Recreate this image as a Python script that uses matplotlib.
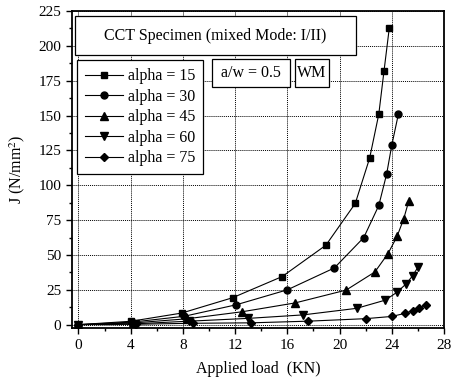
import matplotlib.pyplot as plt
from matplotlib.patches import Rectangle
from matplotlib.ticker import MultipleLocator

plt.rcParams['font.family'] = ['Liberation Serif', 'DejaVu Serif']
plt.rcParams['mathtext.fontset'] = 'stix'

# load (KN) and J integral (N/mm^2) for each crack angle
load_15 = [0, 4.0, 7.9, 11.8, 15.6, 18.95, 21.2, 22.3, 23.0, 23.4, 23.8]
j_15 = [0, 2.4, 8.3, 19.3, 34.5, 57, 87, 119.5, 151, 182, 212.5]
load_30 = [0, 4.1, 8.1, 12.1, 16.0, 19.6, 21.85, 23.0, 23.6, 24.0, 24.5]
j_30 = [0, 1.8, 6.0, 14.3, 25, 40.7, 62.5, 85.5, 108, 129, 151]
load_45 = [0, 4.2, 8.3, 12.5, 16.6, 20.5, 22.7, 23.7, 24.4, 24.9, 25.3]
j_45 = [0, 1.2, 4.2, 9.2, 15.6, 24.8, 37.8, 50.9, 63.3, 75.7, 88.8]
load_60 = [0, 4.3, 8.5, 13.0, 17.2, 21.3, 23.5, 24.4, 25.1, 25.6, 26.0]
j_60 = [0, 0.6, 2.5, 4.5, 7.0, 11.7, 17.6, 23.3, 29.3, 35.2, 41.3]
load_75 = [0, 4.4, 8.8, 13.2, 17.6, 22.0, 24.0, 25.0, 25.6, 26.1, 26.6]
j_75 = [0, 0.3, 1.0, 1.3, 2.5, 4.3, 5.9, 8.1, 10.1, 11.7, 14.0]

labels = ['alpha = 15', 'alpha = 30', 'alpha = 45', 'alpha = 60', 'alpha = 75']
series = [(load_15, j_15), (load_30, j_30), (load_45, j_45), (load_60, j_60), (load_75, j_75)]
markers = ['s', 'o', '^', 'v', 'D']
msizes = [4.5, 5, 5.5, 5.5, 4.5]

fig = plt.figure(figsize=(4.55, 3.82), dpi=100)
ax = fig.add_axes([0.158, 0.141, 0.818, 0.830])

for (x, y), lab, m, ms in zip(series, labels, markers, msizes):
    ax.plot(x, y, color='black', lw=0.8, marker=m, ms=ms, label=lab, zorder=3)

ax.set_xlim(-0.5, 28)
ax.set_ylim(-2.5, 225)
ax.xaxis.set_major_locator(MultipleLocator(4))
ax.xaxis.set_minor_locator(MultipleLocator(2))
ax.yaxis.set_major_locator(MultipleLocator(25))
ax.yaxis.set_minor_locator(MultipleLocator(12.5))
ax.tick_params(which='major', direction='out', length=4, width=1, labelsize=11)
ax.tick_params(which='minor', direction='out', length=2.5, width=1)
ax.grid(True, which='major', ls=(0, (1, 1)), color='black', lw=0.7, zorder=0)
for sp in ax.spines.values():
    sp.set_linewidth(1.3)

ax.set_xlabel('Applied load  (KN)', fontsize=11.5, labelpad=7)
ax.set_ylabel('J (N/mm$^2$)', fontsize=11.5, labelpad=8)

# title box and annotation boxes
boxes = [(0.008, 0.861, 0.755, 0.123), (0.377, 0.759, 0.209, 0.089), (0.599, 0.759, 0.093, 0.089)]
for x0, y0, w, h in boxes:
    ax.add_patch(Rectangle((x0, y0), w, h, transform=ax.transAxes, facecolor='white',
                           edgecolor='black', lw=0.9, zorder=5))
ax.text(0.008 + 0.755 / 2, 0.861 + 0.123 / 2, 'CCT Specimen (mixed Mode: I/II)', transform=ax.transAxes,
        ha='center', va='center', fontsize=11.5, zorder=6)
ax.text(0.377 + 0.209 / 2, 0.759 + 0.089 / 2, 'a/w = 0.5', transform=ax.transAxes,
        ha='center', va='center', fontsize=11.5, zorder=6)
ax.text(0.599 + 0.093 / 2, 0.759 + 0.089 / 2, 'WM', transform=ax.transAxes,
        ha='center', va='center', fontsize=11.5, zorder=6)

leg = ax.legend(loc='upper left', bbox_to_anchor=(0.0126, 0.845), borderaxespad=0,
                fancybox=False, edgecolor='black', framealpha=1, fontsize=11.5,
                handlelength=2.4, handletextpad=0.3, labelspacing=0.28, borderpad=0.5)
leg.get_frame().set_linewidth(0.9)
leg.set_zorder(6)

fig.savefig('out.png', dpi=100)
